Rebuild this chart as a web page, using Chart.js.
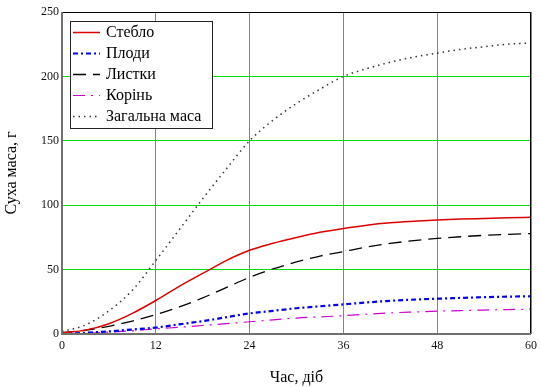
<!DOCTYPE html>
<html lang="uk">
<head>
    <meta charset="UTF-8">
    <title>Суха маса</title>
    <script src="https://cdn.jsdelivr.net/npm/chart.js"></script>
    <style>
        html, body { margin: 0; padding: 0; background: #fff; }
        .chart-container { width: 540px; height: 387px; position: relative; }
    </style>
</head>
<body>
    <div class="chart-container">
        <canvas id="masaChart" width="540" height="387"></canvas>
    </div>

<script>
// дані (кожні 3 доби)
const dni = [0, 3, 6, 9, 12, 15, 18, 21, 24, 27, 30, 33, 36, 39, 42, 45, 48, 51, 54, 57, 60];
const steblo = [1, 3, 8, 16, 26, 37, 47, 57, 65, 70.5, 75, 79, 82, 84.5, 86.3, 87.5, 88.5, 89.2, 89.7, 90.2, 90.6];
const plody = [0, 1, 2, 3.5, 5, 7.5, 10, 13, 16, 18, 20, 21.5, 23, 24.5, 25.8, 26.7, 27.4, 28, 28.6, 29, 29.3];
const lystky = [1, 3, 6, 10, 15, 21, 28, 36, 44, 50.5, 56, 60.5, 64, 67.5, 70.3, 72.5, 74.2, 75.5, 76.6, 77.4, 78];
const korin = [0, 0.5, 1.5, 2.5, 4, 5.2, 6.6, 8, 9.5, 11, 12.4, 13.3, 14.2, 15.4, 16.4, 17.1, 17.7, 18.2, 18.6, 19, 19.3];
const zahalna = [2, 7, 18, 34, 57, 81, 105, 128, 150, 166, 179, 190, 200, 206, 211, 215, 218, 221, 223, 225, 226];
const nazvy = ['Стебло', 'Плоди', 'Листки', 'Корінь', 'Загальна маса'];

const toPts = arr => arr.map((v, i) => ({ x: dni[i], y: v }));

// рамка області графіка
const ramka = {
    id: 'ramka',
    afterDatasetsDraw(chart) {
        const { ctx, chartArea: a } = chart;
        ctx.save();
        ctx.strokeStyle = '#000';
        ctx.lineWidth = 1;
        ctx.beginPath();
        ctx.moveTo(a.left, a.top + 0.5);
        ctx.lineTo(a.right - 0.5, a.top + 0.5);
        ctx.lineTo(a.right - 0.5, a.bottom);
        ctx.stroke();
        ctx.strokeStyle = '#707070';
        ctx.lineWidth = 2;
        ctx.beginPath();
        ctx.moveTo(a.left, a.top);
        ctx.lineTo(a.left, a.bottom);
        ctx.lineTo(a.right, a.bottom);
        ctx.stroke();
        ctx.restore();
    }
};

// легенда всередині області графіка
const legenda = {
    id: 'legenda',
    afterDraw(chart) {
        const ctx = chart.ctx;
        const x0 = 70, y0 = 21, w = 142, h = 107, krok = 21;
        ctx.save();
        ctx.fillStyle = '#fff';
        ctx.fillRect(x0, y0, w, h);
        ctx.strokeStyle = '#222';
        ctx.lineWidth = 1;
        ctx.strokeRect(x0 + 0.5, y0 + 0.5, w, h);
        ctx.font = '16px "Liberation Serif"';
        ctx.textBaseline = 'middle';
        chart.data.datasets.forEach((ds, i) => {
            const y = y0 + 11 + i * krok;
            ctx.strokeStyle = ds.borderColor;
            ctx.lineWidth = ds.borderWidth;
            ctx.setLineDash(ds.borderDash || []);
            ctx.beginPath();
            ctx.moveTo(x0 + 3, y + 0.5);
            ctx.lineTo(x0 + 30, y + 0.5);
            ctx.stroke();
            ctx.setLineDash([]);
            ctx.fillStyle = '#000';
            ctx.fillText(ds.label, x0 + 36, y + 1);
        });
        ctx.restore();
    }
};

const ctx = document.getElementById('masaChart').getContext('2d');
const masaChart = new Chart(ctx, {
    type: 'line',
    data: {
        datasets: [
            { label: nazvy[0], data: toPts(steblo), borderColor: '#dd0000', borderWidth: 1.5, borderDash: [] },
            { label: nazvy[1], data: toPts(plody), borderColor: '#0000ee', borderWidth: 2.2, borderDash: [5, 3, 2, 3] },
            { label: nazvy[2], data: toPts(lystky), borderColor: '#000000', borderWidth: 1.3, borderDash: [13, 7] },
            { label: nazvy[3], data: toPts(korin), borderColor: '#cc00cc', borderWidth: 1.2, borderDash: [12, 6, 2, 6] },
            { label: nazvy[4], data: toPts(zahalna), borderColor: '#333333', borderWidth: 1.5, borderDash: [1.5, 4] }
        ]
    },
    options: {
        responsive: false,
        animation: false,
        maintainAspectRatio: false,
        layout: { padding: { top: 12, right: 9, left: 0, bottom: 0 } },
        elements: {
            point: { radius: 0 },
            line: { cubicInterpolationMode: 'monotone', fill: false }
        },
        plugins: {
            legend: { display: false },
            tooltip: { enabled: false }
        },
        scales: {
            x: {
                type: 'linear',
                min: 0,
                max: 60,
                afterFit: s => { s.height = 53; s.paddingLeft = 0; s.paddingRight = 0; },
                ticks: {
                    stepSize: 12,
                    padding: 5,
                    color: '#111',
                    font: { family: 'Liberation Serif', size: 12 }
                },
                grid: { color: '#00e000', lineWidth: 1, drawTicks: false },
                border: { display: false },
                title: {
                    display: true,
                    text: 'Час, діб',
                    color: '#000',
                    font: { family: 'Liberation Serif', size: 16 },
                    padding: { top: 0, bottom: 0 }
                }
            },
            y: {
                min: 0,
                max: 250,
                afterFit: s => { s.width = 62; s.paddingTop = 0; s.paddingBottom = 0; },
                ticks: {
                    stepSize: 50,
                    padding: 3,
                    color: '#111',
                    font: { family: 'Liberation Serif', size: 12 }
                },
                grid: { color: '#00e000', lineWidth: 1, drawTicks: false },
                border: { display: false },
                title: {
                    display: true,
                    text: 'Суха маса, г',
                    color: '#000',
                    font: { family: 'Liberation Serif', size: 16 },
                    padding: { top: 2, bottom: 0 }
                }
            }
        }
    },
    plugins: [ramka, legenda]
});
</script>
</body>
</html>
